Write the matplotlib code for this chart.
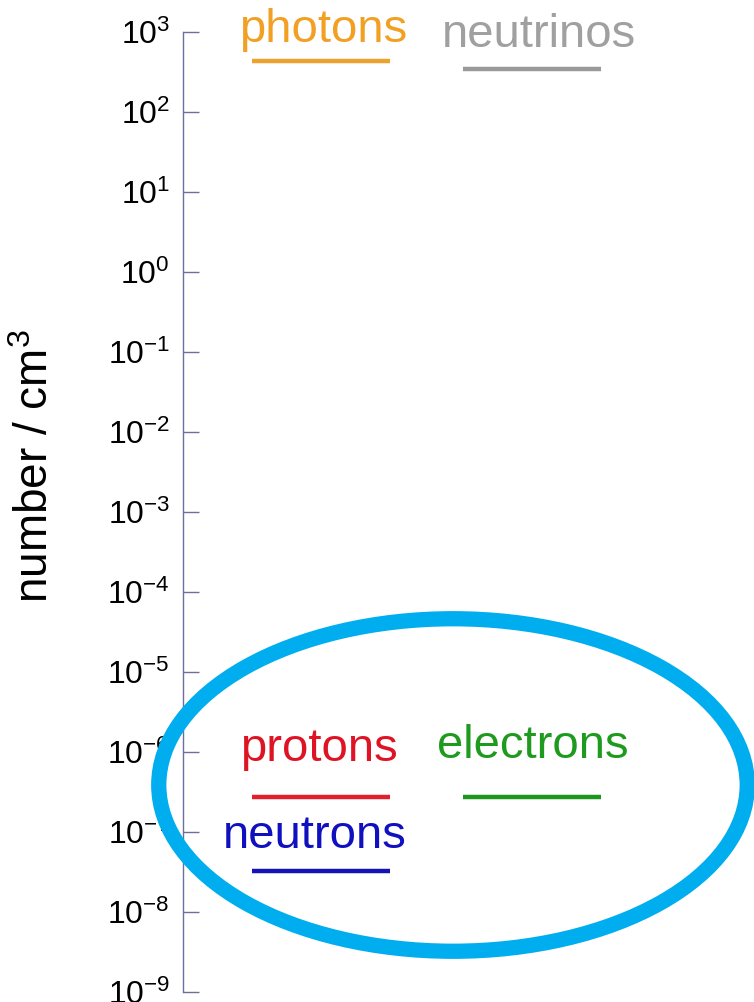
import matplotlib
matplotlib.use("Agg")
import matplotlib.pyplot as plt
from matplotlib.patches import Ellipse
import numpy as np

plt.rcParams["font.family"] = ["Liberation Sans", "DejaVu Sans"]
plt.rcParams["mathtext.fontset"] = "custom"
plt.rcParams["mathtext.rm"] = "Liberation Sans"
plt.rcParams["mathtext.it"] = "Liberation Sans:italic"
plt.rcParams["mathtext.bf"] = "Liberation Sans:bold"

# number densities today (per cm^3)
species = ["photons", "neutrinos", "protons", "electrons", "neutrons"]
density = [430, 345, 2.7e-7, 2.7e-7, 3.2e-8]
column = [0, 1, 0, 1, 0]

bar_colors = ["#eda12e", "#9a9a9a", "#e0202a", "#1c961c", "#1414b4"]
text_colors = ["#f2a024", "#a0a0a0", "#de1424", "#1e9a1e", "#1010c0"]
# label offsets above each bar, in pixels (dx, dy)
label_offsets = [(2, 19), (7, 22), (-2, 36), (1, 39), (-6, 23)]

AXIS_COLOR = "#6e6e9e"
W, H = 754, 1002

fig = plt.figure(figsize=(W / 100, H / 100), dpi=100)
ax = fig.add_axes([183 / W, 10.3 / H, 571 / W, 960 / H])

ax.set_yscale("log")
ax.set_ylim(1e-9, 1e3)
ax.set_xlim(-0.653, 2.053)

half = 0.328
cols = np.array(column, dtype=float)
ax.hlines(density, cols - half, cols + half, colors=bar_colors, lw=3.2)

for name, x, y, c, (dx, dy) in zip(species, column, density, text_colors, label_offsets):
    ax.annotate(name, (x, y), xytext=(dx, dy), textcoords="offset pixels",
                ha="center", va="baseline", fontsize=34, color=c)

for side in ["top", "right", "bottom"]:
    ax.spines[side].set_visible(False)
ax.spines["left"].set_color(AXIS_COLOR)
ax.spines["left"].set_linewidth(1.0)
ax.set_xticks([])
ax.set_yticks([10.0 ** k for k in range(-9, 4)])
ax.yaxis.set_minor_locator(matplotlib.ticker.NullLocator())
ax.tick_params(axis="y", direction="in", length=11.5, width=1.0,
               color=AXIS_COLOR, labelsize=23, pad=9.4, labelcolor="black")

fig.text(36 / W, 1 - 466.5 / H, "number / cm$^3$", rotation=90,
         ha="center", va="center", fontsize=33)

ring = Ellipse((453 / W, 1 - 785 / H), 588.5 / W, 332.5 / H,
               transform=fig.transFigure, fill=False,
               edgecolor="#00aeef", lw=11)
fig.add_artist(ring)

fig.savefig("out.png", dpi=100)
